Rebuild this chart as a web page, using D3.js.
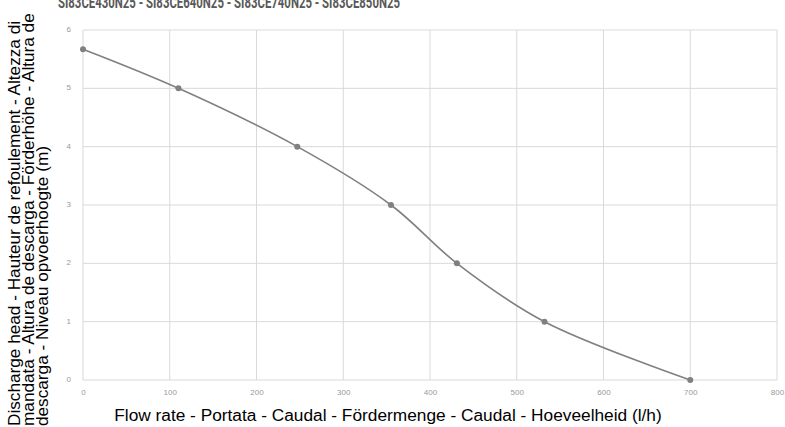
<!DOCTYPE html>
<html>
<head>
<meta charset="utf-8">
<script src="https://cdn.jsdelivr.net/npm/d3@7"></script>
<style>
  body { margin: 0; background: #fff; }
  svg { display: block; }
</style>
</head>
<body>
<div id="chart"></div>
<script>
const width = 785
const height = 427

// curve
const flowRate = [0, 110, 247, 355, 431, 532, 700]
const head = [5.67, 5, 4, 3, 2, 1, 0]
const xTicks = [0, 100, 200, 300, 400, 500, 600, 700, 800]
const yTicks = [0, 1, 2, 3, 4, 5, 6]

const title = 'SI83CE430N25 - SI83CE640N25 - SI83CE740N25 - SI83CE850N25'
const xTitle = 'Flow rate - Portata - Caudal - Fördermenge - Caudal - Hoeveelheid (l/h)'
const yTitle = [
  'Discharge head - Hauteur de refoulement  - Altezza di',
  'mandata - Altura de descarga - Förderhöhe - Altura de',
  'descarga - Niveau opvoerhoogte (m)'
]

const margin = {top: 30, right: 8, bottom: 47, left: 83}

const svg = d3.select('#chart').append('svg').attr('width', width).attr('height', height)

const x = d3.scaleLinear().domain([0, 800]).range([margin.left, width - margin.right])
const y = d3.scaleLinear().domain([0, 6]).range([height - margin.bottom, margin.top])

const data = flowRate.map((f, i) => ({f: f, h: head[i]}))

// grid
svg.append('g')
  .selectAll('line')
  .data(xTicks)
  .enter().append('line')
  .attr('x1', d => x(d)).attr('x2', d => x(d))
  .attr('y1', y(6)).attr('y2', y(0))
  .attr('stroke', '#d9d9d9').attr('stroke-width', 1)

svg.append('g')
  .selectAll('line')
  .data(yTicks)
  .enter().append('line')
  .attr('x1', x(0)).attr('x2', x(800))
  .attr('y1', d => y(d)).attr('y2', d => y(d))
  .attr('stroke', '#d9d9d9').attr('stroke-width', 1)

// tick labels
const xAxis = svg.append('g')
  .attr('transform', 'translate(0,' + (y(0) + 4) + ')')
  .call(d3.axisBottom(x).tickValues(xTicks).tickSize(0).tickPadding(5))
xAxis.select('.domain').remove()
xAxis.selectAll('text').attr('fill', '#999').style('font-size', '8px').style('font-family', 'Liberation Sans, Arial, sans-serif')

const yAxis = svg.append('g')
  .attr('transform', 'translate(' + (x(0) - 8) + ',0)')
  .call(d3.axisLeft(y).tickValues(yTicks).tickFormat(d3.format('d')).tickSize(0).tickPadding(4))
yAxis.select('.domain').remove()
yAxis.selectAll('text').attr('fill', '#999').attr('dy', '0.2em').style('font-size', '8px').style('font-family', 'Liberation Sans, Arial, sans-serif')

// curve
const line = d3.line()
  .x(d => x(d.f))
  .y(d => y(d.h))
  .curve(d3.curveCatmullRom.alpha(0.5))

svg.append('path')
  .datum(data)
  .attr('d', line)
  .attr('fill', 'none')
  .attr('stroke', '#808080')
  .attr('stroke-width', 1.6)

svg.append('g')
  .selectAll('circle')
  .data(data)
  .enter().append('circle')
  .attr('cx', d => x(d.f))
  .attr('cy', d => y(d.h))
  .attr('r', 3)
  .attr('fill', '#808080')

// titles (top one is cut by the edge in the reference too)
svg.append('text')
  .attr('x', 58)
  .attr('y', 8)
  .attr('textLength', 342)
  .attr('lengthAdjust', 'spacingAndGlyphs')
  .attr('fill', '#595959')
  .style('font-family', 'Roboto, sans-serif')
  .style('font-weight', 'bold')
  .style('font-size', '17px')
  .text(title)

svg.append('text')
  .attr('x', 388)
  .attr('y', 421)
  .attr('text-anchor', 'middle')
  .attr('fill', '#000')
  .style('font-family', 'Liberation Sans, Arial, sans-serif')
  .style('font-size', '17.3px')
  .text(xTitle)

svg.append('g')
  .attr('transform', 'translate(0,426) rotate(-90)')
  .selectAll('text')
  .data(yTitle)
  .enter().append('text')
  .attr('x', 0)
  .attr('y', (d, i) => 20 + i * 14)
  .attr('fill', '#000')
  .style('font-family', 'Liberation Sans, Arial, sans-serif')
  .style('font-size', '17.2px')
  .text(d => d)
</script>
</body>
</html>
